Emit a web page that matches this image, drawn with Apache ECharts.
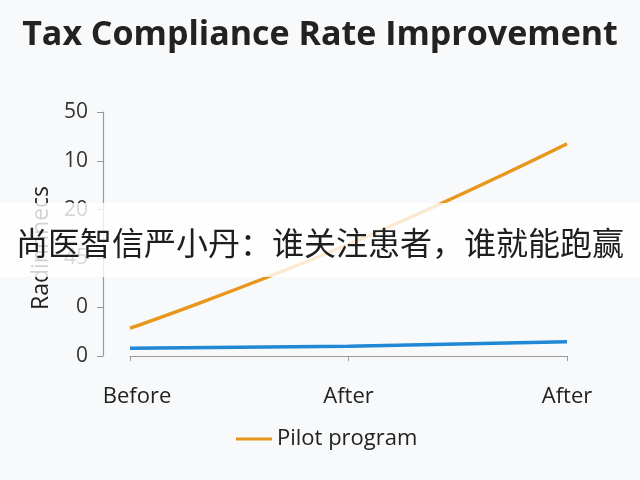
<!DOCTYPE html>
<html>
<head>
<meta charset="utf-8">
<title>Tax Compliance Rate Improvement</title>
<script src="https://cdn.jsdelivr.net/npm/echarts@6/dist/echarts.min.js"></script>
<style>
  html, body { margin: 0; padding: 0; background: #f7f9fb; }
  #chart { width: 640px; height: 480px; }
</style>
</head>
<body>
<div id="chart"></div>
<script>
// data
var categories = ['Before', 'After', 'After'];
var pilotValues = [0.57, 2.29, 4.35];
var baselineValues = [0.16, 0.2, 0.29];
// tick labels as printed, bottom to top
var yTickLabels = ['0', '0', '45', '20', '10', '50'];
var bannerText = '尚医智信严小丹：谁关注患者，谁就能跑赢';

var myChart = echarts.init(document.getElementById('chart'));

var option = {
  backgroundColor: '#f7f9fb',
  title: {
    text: 'Tax Compliance Rate Improvement',
    left: 'center',
    top: 13,
    textStyle: {
      fontFamily: 'Open Sans',
      fontSize: 34,
      fontWeight: 'bold',
      color: '#222'
    }
  },
  legend: {
    data: ['Pilot program'],
    left: 231,
    top: 423,
    itemWidth: 36,
    itemHeight: 3,
    itemGap: 8,
    icon: 'rect',
    textStyle: { fontFamily: 'Open Sans', fontSize: 22, color: '#222' }
  },
  grid: { left: 130, right: 73, top: 112, bottom: 124 },
  xAxis: {
    type: 'category',
    data: categories,
    boundaryGap: false,
    offset: 17,
    axisLine: { lineStyle: { color: '#9a9a9a', width: 1.2 } },
    axisTick: { alignWithLabel: true, length: 5, lineStyle: { color: '#9a9a9a' } },
    axisLabel: {
      fontFamily: 'Open Sans',
      fontSize: 22,
      color: '#222',
      margin: 13,
      // the first label sits a little right of its tick in the picture
      formatter: function (v, i) { return i === 0 ? '{first|' + v + '}' : v; },
      rich: {
        first: { fontFamily: 'Open Sans', fontSize: 22, color: '#222', padding: [0, 0, 0, 14] }
      }
    }
  },
  yAxis: {
    type: 'value',
    min: 0,
    max: 5,
    interval: 1,
    offset: 27,
    name: 'Radinnnecs',
    nameLocation: 'middle',
    nameGap: 43,
    nameTextStyle: {
      fontFamily: 'Open Sans',
      fontSize: 23,
      color: '#222',
      padding: [0, 28, 0, 0]
    },
    axisLine: { show: true, lineStyle: { color: '#9a9a9a', width: 1.2 } },
    axisTick: { show: true, length: 6, lineStyle: { color: '#9a9a9a' } },
    splitLine: { show: false },
    axisLabel: {
      fontFamily: 'Open Sans',
      fontSize: 21,
      color: '#333',
      margin: 15,
      formatter: function (v) { return yTickLabels[Math.round(v)]; }
    }
  },
  series: [
    {
      name: 'Pilot program',
      type: 'line',
      data: pilotValues,
      smooth: true,
      showSymbol: false,
      lineStyle: { color: '#e8961c', width: 3.5 },
      itemStyle: { color: '#e8961c' }
    },
    {
      name: 'Baseline',
      type: 'line',
      data: baselineValues,
      smooth: true,
      showSymbol: false,
      lineStyle: { color: '#2188d6', width: 3.5 },
      itemStyle: { color: '#2188d6' }
    }
  ],
  graphic: [
    {
      type: 'rect',
      z: 100,
      shape: { x: 0, y: 203, width: 640, height: 74 },
      style: { fill: 'rgba(255,255,255,0.8)' }
    },
    {
      type: 'text',
      z: 101,
      x: 320,
      y: 243,
      style: {
        text: bannerText,
        align: 'center',
        verticalAlign: 'middle',
        fontFamily: 'Noto Sans CJK SC',
        fontSize: 32,
        fill: '#1e1e1e'
      }
    }
  ]
};

myChart.setOption(option);
</script>
</body>
</html>
